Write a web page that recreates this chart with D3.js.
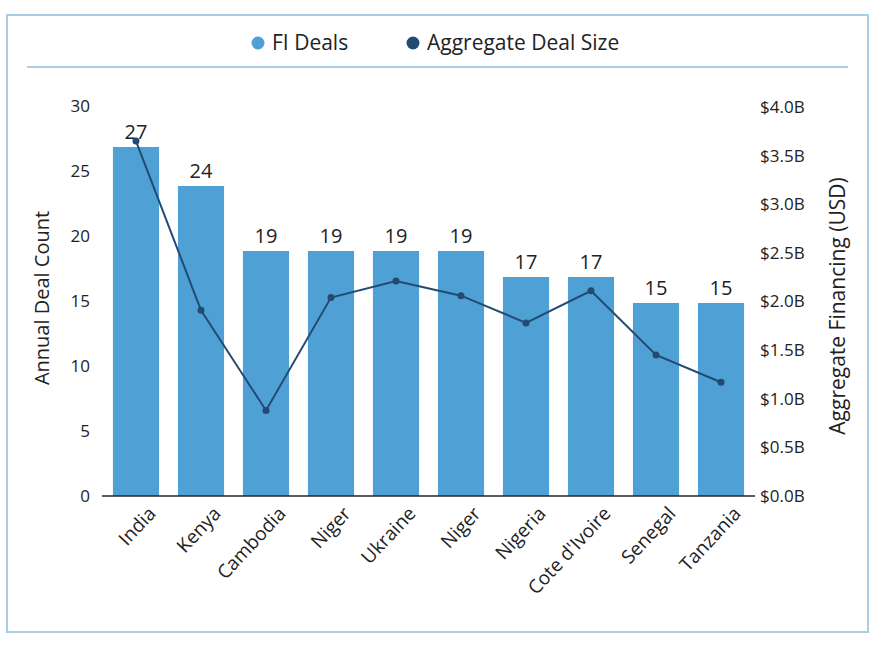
<!DOCTYPE html>
<html>
<head>
<meta charset="utf-8">
<script src="https://cdn.jsdelivr.net/npm/d3@7"></script>
<style>
  body { margin: 0; background: #fff; }
  svg { font-family: "Open Sans", sans-serif; }
</style>
</head>
<body>
<svg width="880" height="645"></svg>
<script>
const countries = ["India", "Kenya", "Cambodia", "Niger", "Ukraine", "Niger", "Nigeria", "Cote d'Ivoire", "Senegal", "Tanzania"];
const dealCounts = [27, 24, 19, 19, 19, 19, 17, 17, 15, 15];
const dealSizes = [3.65, 1.91, 0.88, 2.04, 2.21, 2.06, 1.78, 2.11, 1.45, 1.17];
const countTicks = [0, 5, 10, 15, 20, 25, 30];
const sizeTicks = [0, 0.5, 1, 1.5, 2, 2.5, 3, 3.5, 4];

const barColor = "#4fa1d5";
const lineColor = "#244a73";
const frameColor = "#a9cde6";

let svg = d3.select("svg");

// frame
svg.append("rect")
  .attr("x", 7).attr("y", 15)
  .attr("width", 861).attr("height", 617)
  .attr("fill", "none")
  .attr("stroke", frameColor)
  .attr("stroke-width", 2);

svg.append("line")
  .attr("x1", 27).attr("x2", 848)
  .attr("y1", 67).attr("y2", 67)
  .attr("stroke", frameColor)
  .attr("stroke-width", 2);

// legend
let legend = [
  { label: "FI Deals", color: barColor, x: 258 },
  { label: "Aggregate Deal Size", color: lineColor, x: 413 },
];
legend.forEach((l) => {
  svg.append("circle").attr("cx", l.x).attr("cy", 43).attr("r", 6.5).attr("fill", l.color);
  svg.append("text")
    .attr("x", l.x + 14).attr("y", 43)
    .attr("dy", "0.35em")
    .attr("font-size", 21)
    .attr("fill", "#222")
    .text(l.label);
});

let xScale = d3.scaleBand()
  .domain(d3.range(countries.length))
  .range([102, 755])
  .paddingInner(0.29)
  .paddingOuter(0.168);

let yLeft = d3.scaleLinear().domain([0, 30]).range([496, 106]);
let yRight = d3.scaleLinear().domain([0, 4]).range([496, 107]);

// bars
svg.selectAll(".bar")
  .data(dealCounts)
  .enter()
  .append("rect")
  .attr("class", "bar")
  .attr("x", (d, i) => xScale(i))
  .attr("width", xScale.bandwidth())
  .attr("y", (d) => yLeft(d) + 2)
  .attr("height", (d) => yLeft(0) - yLeft(d) - 2)
  .attr("fill", barColor);

// bar labels
svg.selectAll(".barLabel")
  .data(dealCounts)
  .enter()
  .append("text")
  .attr("class", "barLabel")
  .attr("x", (d, i) => xScale(i) + xScale.bandwidth() / 2)
  .attr("y", (d) => yLeft(d) - 6)
  .attr("text-anchor", "middle")
  .attr("font-size", 20)
  .attr("fill", "#222")
  .text((d) => d);

// left axis
let leftAxis = d3.axisLeft(yLeft).tickValues(countTicks).tickSize(0).tickPadding(0);
let gl = svg.append("g").attr("transform", "translate(90,0)").call(leftAxis);
gl.select(".domain").remove();
gl.selectAll("text").attr("font-size", 17).attr("fill", "#222").attr("font-family", "Open Sans");

// right axis
let rightAxis = d3.axisRight(yRight)
  .tickValues(sizeTicks)
  .tickSize(0)
  .tickPadding(0)
  .tickFormat((d) => "$" + d.toFixed(1) + "B");
let gr = svg.append("g").attr("transform", "translate(760,0)").call(rightAxis);
gr.select(".domain").remove();
gr.selectAll("text").attr("font-size", 17).attr("fill", "#222").attr("font-family", "Open Sans");

// baseline
svg.append("line")
  .attr("x1", 102).attr("x2", 755)
  .attr("y1", yLeft(0)).attr("y2", yLeft(0))
  .attr("stroke", "#2a2520")
  .attr("stroke-width", 1.5);

// x labels
svg.selectAll(".xLabel")
  .data(countries)
  .enter()
  .append("text")
  .attr("class", "xLabel")
  .attr("text-anchor", "end")
  .attr("font-size", 19)
  .attr("fill", "#222")
  .attr("transform", (d, i) => {
    let cx = xScale(i) + xScale.bandwidth() / 2 + 16;
    return "translate(" + cx + ",510) rotate(-47)";
  })
  .attr("dy", "0.35em")
  .text((d) => d);

// line
let line = d3.line()
  .x((d, i) => xScale(i) + xScale.bandwidth() / 2)
  .y((d) => yRight(d));

svg.append("path")
  .datum(dealSizes)
  .attr("d", line)
  .attr("fill", "none")
  .attr("stroke", lineColor)
  .attr("stroke-width", 2);

svg.selectAll(".dot")
  .data(dealSizes)
  .enter()
  .append("circle")
  .attr("class", "dot")
  .attr("cx", (d, i) => xScale(i) + xScale.bandwidth() / 2)
  .attr("cy", (d) => yRight(d))
  .attr("r", 3.5)
  .attr("fill", lineColor);

// axis titles
svg.append("text")
  .attr("transform", "translate(49,298) rotate(-90)")
  .attr("text-anchor", "middle")
  .attr("font-size", 20)
  .attr("fill", "#222")
  .text("Annual Deal Count");

svg.append("text")
  .attr("transform", "translate(838,306) rotate(-90)")
  .attr("text-anchor", "middle")
  .attr("dy", "0.35em")
  .attr("font-size", 21)
  .attr("fill", "#222")
  .text("Aggregate Financing (USD)");
</script>
</body>
</html>
